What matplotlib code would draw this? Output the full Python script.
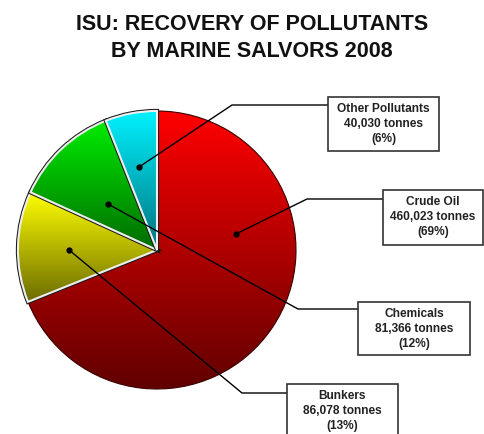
import numpy as np
import matplotlib
matplotlib.use("Agg")
import matplotlib.pyplot as plt
from matplotlib.patches import Wedge, Rectangle

# ---- data ----
categories = ["Crude Oil", "Bunkers", "Chemicals", "Other Pollutants"]
tonnes = [460023, 86078, 81366, 40030]
percent_labels = ["69%", "13%", "12%", "6%"]
tonnes_labels = ["460,023", "86,078", "81,366", "40,030"]
title = "ISU: RECOVERY OF POLLUTANTS\nBY MARINE SALVORS 2008"

# ---- styling / layout ----
W, H = 485, 434
top_colors = [(1.0, 0.0, 0.0), (1.0, 1.0, 0.0), (0.0, 0.93, 0.0), (0.0, 0.95, 1.0)]
bot_colors = [(0.38, 0.0, 0.0), (0.42, 0.42, 0.0), (0.0, 0.42, 0.0), (0.0, 0.45, 0.50)]
explode = [0.0, 0.045, 0.045, 0.05]
center_px = (157, 250)
radius = 139

def Y(yp):
    return H - yp

# anchors (dot), elbow, box (x0, y0, x1, y1) in pixel coords
dots = [(236, 234), (69, 250), (108, 204), (139, 167)]
elbows = [(307, 199), (242, 393), (298, 309), (232, 105)]
line_y = [199, 393, 309, 105]
boxes = [(383, 190, 483, 245), (287, 384, 398, 440), (358, 302, 470, 355), (328, 97, 439, 151)]

fig = plt.figure(figsize=(W / 100, H / 100), dpi=100)
ax = fig.add_axes([0, 0, 1, 1])

wedges, _ = ax.pie(tonnes, startangle=90, counterclock=False, explode=explode,
                   center=(center_px[0], Y(center_px[1])), radius=radius, frame=True)

for i, w in enumerate(wedges):
    base = 10 * i
    if i > 0:
        outline = Wedge(w.center, w.r, w.theta1, w.theta2, fc="none", ec="#1a1a1a",
                        lw=3.0, zorder=base + 1)
        ax.add_patch(outline)
    n = 256
    t = np.linspace(0, 1, n)[:, None]
    c0 = np.array(top_colors[i]); c1 = np.array(bot_colors[i])
    grad = (c0[None, :] * (1 - t) + c1[None, :] * t)[:, None, :]
    bb = w.get_path().get_extents()
    im = ax.imshow(grad, extent=(bb.x0, bb.x1, bb.y0, bb.y1), origin="upper",
                   aspect="auto", zorder=base + 2, interpolation="bilinear")
    im.set_clip_path(w)
    w.set_facecolor("none")
    if i == 0:
        w.set_edgecolor("#3a0000"); w.set_linewidth(0.8)
    else:
        w.set_edgecolor("#eeeeee"); w.set_linewidth(1.5)
    w.set_zorder(base + 3)

# leader lines and label boxes
for i in range(len(categories)):
    x0, y0, x1, y1 = boxes[i]
    ax.plot([dots[i][0], elbows[i][0], x0], [Y(dots[i][1]), Y(elbows[i][1]), Y(line_y[i])],
            color="black", lw=1.0, zorder=100, solid_capstyle="butt")
    ax.plot(dots[i][0], Y(dots[i][1]), "o", color="black", ms=3.5, zorder=101)
    ax.add_patch(Rectangle((x0, Y(y1)), x1 - x0, y1 - y0, fc="white", ec="#333333",
                           lw=1.2, zorder=102))
    txt = f"{categories[i]}\n{tonnes_labels[i]} tonnes\n({percent_labels[i]})"
    ty = y0 + 27
    ax.text((x0 + x1) / 2, Y(ty), txt, ha="center", va="center", fontsize=8.6,
            fontweight="bold", color="#222222", family="Liberation Sans",
            linespacing=1.32, zorder=103)

fig.text(252 / W, Y(38) / H, title, ha="center", va="center", fontsize=15.5,
         fontweight="bold", family="Liberation Sans", linespacing=1.38, color="#111111")

ax.set_xlim(0, W)
ax.set_ylim(0, H)
ax.set_aspect("auto")
ax.axis("off")
fig.savefig("out.png", dpi=100, facecolor="white")
